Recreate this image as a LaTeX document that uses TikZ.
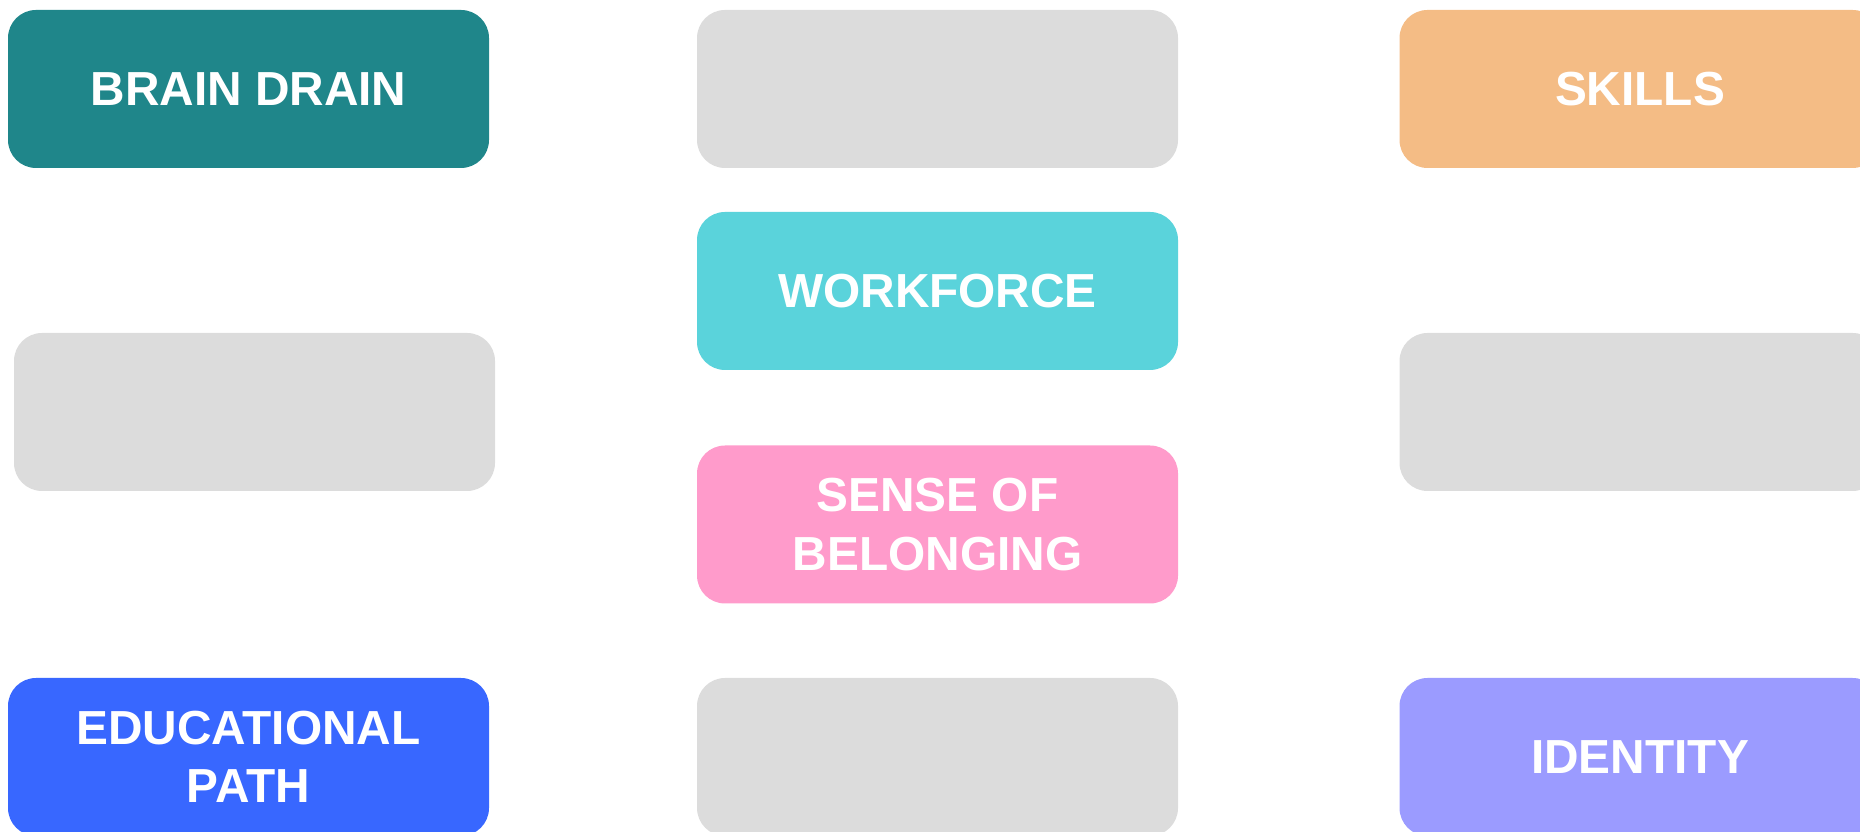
\documentclass[tikz,border=0pt]{standalone}
\usepackage{fontspec}
\setmainfont{Liberation Sans}
\usepackage{tikz}
\usetikzlibrary{positioning}
\usepackage{xcolor}
\definecolor{drainteal}{HTML}{1F868A}
\definecolor{skillorange}{HTML}{F4BC85}
\definecolor{workcyan}{HTML}{5AD3DB}
\definecolor{belongpink}{HTML}{FF9BCB}
\definecolor{pathblue}{HTML}{3867FF}
\definecolor{identlilac}{HTML}{9B9BFF}
\definecolor{blankgray}{HTML}{DCDCDC}

\begin{document}
\begin{tikzpicture}[
    box/.style={rectangle, rounded corners=2.8mm, minimum width=4.81cm, minimum height=1.58cm,
                inner sep=0pt, align=center, text=white,
                font=\fontsize{13.6}{16.6}\selectfont\bfseries},
    blank/.style={box, fill=blankgray}
]
    \clip (0,0) rectangle (18.6,8.32);
    \useasboundingbox (0,0) rectangle (18.6,8.32);

    % top row
    \node[box, fill=drainteal] (brain) at (2.485,7.43) {BRAIN DRAIN};
    \node[blank] (gapA) at (9.375,7.43) {};
    \node[box, fill=skillorange] (skills) at (16.4,7.43) {SKILLS};

    % middle column
    \node[box, fill=workcyan] (workforce) at (9.375,5.41) {WORKFORCE};
    \node[box, fill=belongpink] (belonging) at (9.375,3.075) {SENSE OF\\BELONGING};

    % side blanks
    \node[blank] (gapB) at (2.545,4.2) {};
    \node[blank] (gapC) at (16.4,4.2) {};

    % bottom row
    \node[box, fill=pathblue] (educ) at (2.485,0.75) {EDUCATIONAL\\PATH};
    \node[blank] (gapD) at (9.375,0.75) {};
    \node[box, fill=identlilac] (identity) at (16.4,0.75) {IDENTITY};
\end{tikzpicture}
\end{document}
